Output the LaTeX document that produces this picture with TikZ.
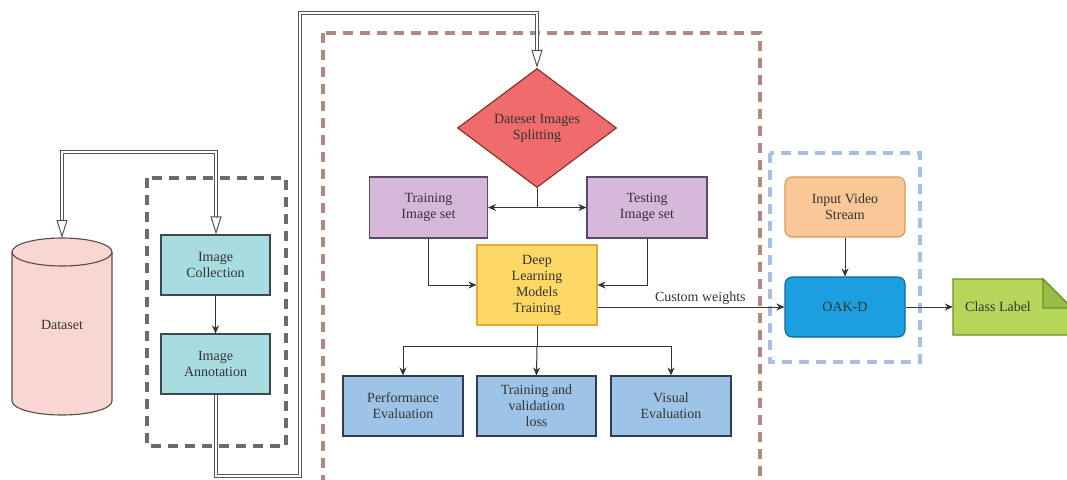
\documentclass[tikz,border=0pt]{standalone}
\usepackage{fontspec}
\setmainfont{Liberation Serif}
\usetikzlibrary{arrows.meta,shapes.geometric,calc}
\definecolor{txt}{HTML}{333333}
\definecolor{dsfill}{HTML}{F8D6D1}
\definecolor{dsline}{HTML}{5A4A48}
\definecolor{tealfill}{HTML}{A9DCE0}
\definecolor{tealline}{HTML}{3A4A4E}
\definecolor{purfill}{HTML}{D5B8DA}
\definecolor{purline}{HTML}{5A4A66}
\definecolor{redfill}{HTML}{F06B6B}
\definecolor{redline}{HTML}{7A2D2D}
\definecolor{yelfill}{HTML}{FDD865}
\definecolor{yelline}{HTML}{E0A93A}
\definecolor{bluefill}{HTML}{9DC4E6}
\definecolor{blueline}{HTML}{2E3E50}
\definecolor{orfill}{HTML}{FAC898}
\definecolor{orline}{HTML}{D79B4C}
\definecolor{oakfill}{HTML}{1C9FE0}
\definecolor{oakline}{HTML}{10699A}
\definecolor{grfill}{HTML}{B5D65A}
\definecolor{grline}{HTML}{6F8F2A}
\definecolor{grfold}{HTML}{98BC45}
\definecolor{dashgray}{HTML}{6B6B6B}
\definecolor{dashbrown}{HTML}{AE8A82}
\definecolor{dashblue}{HTML}{A9BFDD}
\definecolor{dblc}{HTML}{555555}
\tikzset{
  lbl/.style={font=\fontsize{14}{16}\selectfont, text=txt, align=center},
  box/.style={lbl, rectangle, draw, line width=1.1pt, inner sep=0pt},
  arr/.style={draw=txt, line width=1pt, -{Stealth[length=8pt,width=7pt]}},
  ln/.style={draw=txt, line width=1pt},
  dbl/.style={draw=dblc, double=white, double distance=2pt, line width=1pt},
  openarr/.style={draw=dblc, line width=1pt, -{Triangle[open,length=18pt,width=11pt]}},
  dashbox/.style={line width=3.5pt, dash pattern=on 10pt off 7pt},
}
\begin{document}
\begin{tikzpicture}[x=1pt,y=1pt]
\useasboundingbox (0,0) rectangle (1067,-479);
% dashed groups
\draw[dashbox, draw=dashgray] (147,-178) rectangle (286,-446);
\draw[dashbox, draw=dashbrown] (323,-33) rectangle (760,-495);
\draw[dashbox, draw=dashblue] (770,-153) rectangle (920,-362);
% dataset cylinder
\fill[dsfill] (12,-252) -- (12,-401) arc[start angle=180,end angle=360,x radius=50pt,y radius=14pt] -- (112,-252) arc[start angle=0,end angle=180,x radius=50pt,y radius=14pt] -- cycle;
\draw[dsline, line width=1.1pt] (12,-252) -- (12,-401) arc[start angle=180,end angle=360,x radius=50pt,y radius=14pt] -- (112,-252);
\draw[dsline, line width=1.1pt] (62,-252) ellipse[x radius=50pt,y radius=14pt];
\node[lbl] (dataset) at (62,-325) {Dataset};
\coordinate (dstop) at (62,-238);
% left group
\node[box, fill=tealfill, draw=tealline, minimum width=109pt, minimum height=60pt] (coll) at (215.5,-265) {Image\\Collection};
\node[box, fill=tealfill, draw=tealline, minimum width=109pt, minimum height=60pt] (anno) at (215.5,-364) {Image\\Annotation};
% center group
\node[lbl, diamond, draw=redline, fill=redfill, line width=1.1pt, inner sep=0pt, aspect=1.336, minimum width=159pt, minimum height=119pt] (split) at (537,-128) {Dateset Images\\Splitting};
\node[box, fill=purfill, draw=purline, minimum width=118pt, minimum height=61pt] (train) at (428.5,-207.5) {Training\\Image set};
\node[box, fill=purfill, draw=purline, minimum width=120pt, minimum height=61pt] (test) at (647,-207.5) {Testing\\Image set};
\node[box, fill=yelfill, draw=yelline, minimum width=120pt, minimum height=80pt] (dl) at (537,-285) {Deep\\Learning\\Models\\Training};
\node[box, fill=bluefill, draw=blueline, minimum width=120pt, minimum height=60pt] (perf) at (403,-406) {Performance\\Evaluation};
\node[box, fill=bluefill, draw=blueline, minimum width=119pt, minimum height=60pt] (tvl) at (536.5,-406) {Training and\\validation\\loss};
\node[box, fill=bluefill, draw=blueline, minimum width=120pt, minimum height=60pt] (vis) at (671,-406) {Visual\\Evaluation};
% right group
\node[box, fill=orfill, draw=orline, rounded corners=7pt, minimum width=120pt, minimum height=60pt] (input) at (845,-207) {Input Video\\Stream};
\node[box, fill=oakfill, draw=oakline, rounded corners=7pt, minimum width=120pt, minimum height=60pt] (oak) at (845,-307) {OAK-D};
% class label note
\fill[grfill] (953,-279) -- (1043,-279) -- (1072,-308) -- (1072,-335) -- (953,-335) -- cycle;
\draw[grline, line width=1.1pt] (1072,-335) -- (953,-335) -- (953,-279) -- (1043,-279) -- (1072,-308);
\filldraw[fill=grfold, draw=grline, line width=1.1pt] (1043,-279) -- (1043,-308) -- (1072,-308) -- cycle;
\node[lbl, minimum width=90pt, inner sep=0pt] (cls) at (998,-307) {Class Label};
% double connectors
\coordinate (jL) at (62,-152);
\coordinate (jR) at (216,-152);
\coordinate (jLa) at (62,-220);
\coordinate (jRa) at (216,-217);
\draw[dbl] (jLa) -- (jL) -- (jR) -- (jRa);
\draw[openarr] (jLa) -- (dstop);
\draw[openarr] (jRa) -- (jRa |- coll.north);
\coordinate (b1) at (216,-476);
\coordinate (b2) at (300,-476);
\coordinate (b3) at (300,-13);
\coordinate (b4) at (537,-13);
\coordinate (b5) at (537,-50);
\draw[dbl] (anno.south -| b1) -- (b1) -- (b2) -- (b3) -- (b4) -- (b5);
\draw[openarr] (b5) -- (split.north);
% single arrows
\draw[arr] (coll) -- (anno);
\draw[arr] (split.south) |- (train.east);
\draw[arr] (split.south) |- (test.west);
\draw[arr] (train.south) |- (dl.west);
\draw[arr] (test.south) |- (dl.east);
\draw[arr] (dl.east |- oak.west) -- node[lbl, above, pos=0.55, inner sep=2pt] {Custom weights} (oak.west);
\coordinate (hb) at (537,-346);
\draw[ln] (dl.south) -- (hb);
\draw[arr] (hb) -| (perf.north);
\draw[arr] (hb) -| (vis.north);
\draw[arr] (hb) -- (tvl.north);
\draw[arr] (input) -- (oak);
\draw[arr] (oak.east) -- (cls.west);
\end{tikzpicture}
\end{document}
